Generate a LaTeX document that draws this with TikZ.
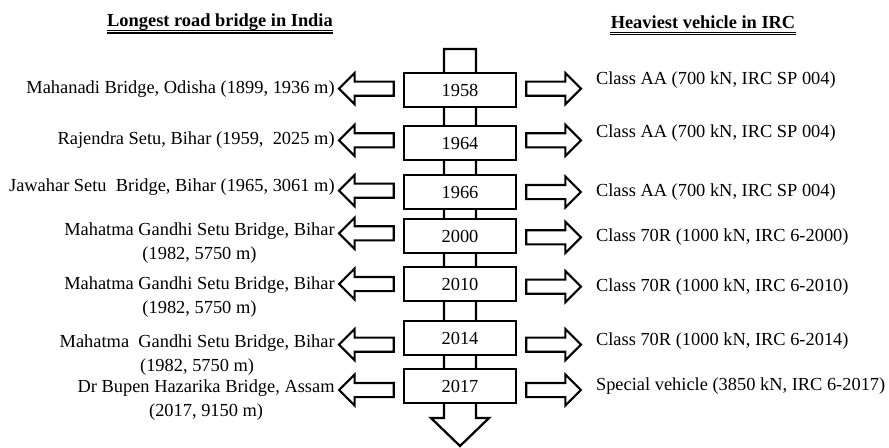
\documentclass[tikz,border=0pt]{standalone}
\usepackage{fontspec}
\setmainfont{Liberation Serif}
\usepackage{tikz}
\usetikzlibrary{positioning, shapes.arrows}

\begin{document}
\begin{tikzpicture}[
    x=0.75pt, y=-0.75pt,
    font=\fontsize{13.8pt}{18pt}\selectfont,
    yearbox/.style={draw, line width=1.8pt, fill=white, minimum width=84pt,
                    minimum height=25.5pt, inner sep=0pt},
    blockarrow/.style={single arrow, draw, line width=1.6pt, fill=white,
                       minimum height=41pt, inner xsep=0pt, inner ysep=4.5pt,
                       single arrow head extend=6.4pt,
                       single arrow tip angle=90},
    leftarrow/.style={blockarrow, shape border rotate=180},
    bridge/.style={align=center, inner sep=0pt},
    vehicle/.style={inner sep=0pt},
    head/.style={font=\fontsize{13.8pt}{18pt}\selectfont\bfseries, inner sep=0pt},
    uline/.style={line width=0.8pt}
  ]
  \useasboundingbox (0,0) rectangle (889,447);

  % headings
  \node[head] (hbridge)  at (220,22) {Longest road bridge in India};
  \node[head] (hvehicle) at (703,22) {Heaviest vehicle in IRC};
  \draw[uline] ([yshift=-3pt]hbridge.base west) -- ([yshift=-3pt]hbridge.base east);
  \draw[uline] ([yshift=-5pt]hbridge.base west) -- ([yshift=-5pt]hbridge.base east);
  \draw[uline] ([yshift=-3pt]hvehicle.base west) -- ([yshift=-3pt]hvehicle.base east);
  \draw[uline] ([yshift=-5pt]hvehicle.base west) -- ([yshift=-5pt]hvehicle.base east);

  % time line
  \draw[line width=1.7pt, fill=white] (444,49) -- (476,49) -- (476,418) -- (489,418)
    -- (460,446) -- (431,418) -- (444,418) -- cycle;

  \node[yearbox] (y1958) at (460,90)  {1958};
  \node[yearbox] (y1964) at (460,143) {1964};
  \node[yearbox] (y1966) at (460,192) {1966};
  \node[yearbox] (y2000) at (460,236) {2000};
  \node[yearbox] (y2010) at (460,284) {2010};
  \node[yearbox] (y2014) at (460,338) {2014};
  \node[yearbox] (y2017) at (460,386) {2017};

  % arrows
  \node[leftarrow, left=6pt of y1958, yshift=1pt]  (l1958) {};
  \node[leftarrow, left=6pt of y1964, yshift=2pt]  (l1964) {};
  \node[leftarrow, left=6pt of y1966, yshift=1pt]  (l1966) {};
  \node[leftarrow, left=6pt of y2000, yshift=2pt]  (l2000) {};
  \node[leftarrow, left=6pt of y2010]              (l2010) {};
  \node[leftarrow, left=6pt of y2014, yshift=-5pt] (l2014) {};
  \node[leftarrow, left=6pt of y2017, yshift=-3pt] (l2017) {};

  \node[blockarrow, right=6pt of y1958, yshift=1pt]  (r1958) {};
  \node[blockarrow, right=6pt of y1964, yshift=2pt]  (r1964) {};
  \node[blockarrow, right=6pt of y1966]              (r1966) {};
  \node[blockarrow, right=6pt of y2000, yshift=-1pt] (r2000) {};
  \node[blockarrow, right=6pt of y2010, yshift=-2pt] (r2010) {};
  \node[blockarrow, right=6pt of y2014, yshift=-5pt] (r2014) {};
  \node[blockarrow, right=6pt of y2017, yshift=-3pt] (r2017) {};

  % bridges
  \node[bridge, left=2pt of l1958] (b1958) {Mahanadi Bridge, Odisha (1899, 1936 m)};
  \node[bridge, left=2pt of l1964] (b1964) {Rajendra Setu, Bihar (1959,~ 2025 m)};
  \node[bridge, left=2pt of l1966, yshift=3pt] (b1966) {Jawahar Setu~ Bridge, Bihar (1965, 3061 m)};
  \node[bridge, below left=-8pt and 2pt of l2000.west] (b2000)
    {Mahatma Gandhi Setu Bridge, Bihar\\(1982, 5750 m)};
  \node[bridge, below left=-6pt and 2pt of l2010.west] (b2010)
    {Mahatma Gandhi Setu Bridge, Bihar\\(1982, 5750 m)};
  \node[bridge, below left=-8pt and 2pt of l2014.west] (b2014)
    {Mahatma~ Gandhi Setu Bridge, Bihar\\(1982, 5750 m)};
  \node[bridge, below left=-8pt and 2pt of l2017.west] (b2017)
    {Dr Bupen Hazarika Bridge, Assam\\(2017, 9150 m)};

  % vehicles
  \node[vehicle, right=10pt of r1958, yshift=6.75pt] (v1958) {Class AA (700 kN, IRC SP 004)};
  \node[vehicle, right=10pt of r1964, yshift=5.25pt] (v1964) {Class AA (700 kN, IRC SP 004)};
  \node[vehicle, right=10pt of r1966] (v1966) {Class AA (700 kN, IRC SP 004)};
  \node[vehicle, right=10pt of r2000] (v2000) {Class 70R (1000 kN, IRC 6-2000)};
  \node[vehicle, right=10pt of r2010] (v2010) {Class 70R (1000 kN, IRC 6-2010)};
  \node[vehicle, right=10pt of r2014, yshift=3pt] (v2014) {Class 70R (1000 kN, IRC 6-2014)};
  \node[vehicle, right=10pt of r2017, yshift=3pt] (v2017) {Special vehicle (3850 kN, IRC 6-2017)};
\end{tikzpicture}
\end{document}
